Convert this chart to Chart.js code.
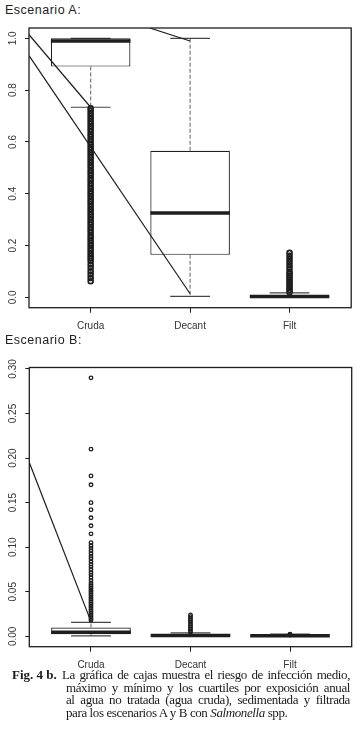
<!DOCTYPE html>
<html>
<head>
<meta charset="utf-8">
<script src="https://cdn.jsdelivr.net/npm/chart.js@4.4.0/dist/chart.umd.min.js"></script>
<style>
    body { margin: 0; background: #fff; width: 357px; height: 742px; position: relative; overflow: hidden; font-family: "Liberation Sans", Arial, sans-serif; color: #222; }
    .title { position: absolute; left: 5px; font-size: 12.5px; line-height: 13px; letter-spacing: 0.5px; }
    .wrap { position: absolute; left: 0; width: 357px; }
    .cap { position: absolute; font-family: "Liberation Serif", "Times New Roman", serif; font-size: 13px; line-height: 13px; white-space: nowrap; color: #1a1a1a; letter-spacing: -0.4px; }
    .just { text-align: justify; text-align-last: justify; }
</style>
</head>
<body>
<div class="title" style="top:4px">Escenario A:</div>
<div class="wrap" style="top:0;height:340px"><canvas id="chartA" width="357" height="340"></canvas></div>
<div class="title" style="top:334px">Escenario B:</div>
<div class="wrap" style="top:340px;height:335px"><canvas id="chartB" width="357" height="335"></canvas></div>

<div class="cap" style="left:12px;top:668px;font-weight:bold;letter-spacing:0">Fig. 4 b.</div>
<div class="cap just" style="left:62px;top:668px;width:288px">La gráfica de cajas muestra el riesgo de infección medio,</div>
<div class="cap just" style="left:66px;top:680.7px;width:284px">máximo y mínimo y los cuartiles por exposición anual</div>
<div class="cap just" style="left:66px;top:693.3px;width:284px">al agua no tratada (agua cruda), sedimentada y filtrada</div>
<div class="cap" style="left:66px;top:705.8px">para los escenarios A y B con <i>Salmonella</i> spp.</div>

<script>
const categories = ['Cruda', 'Decant', 'Filt'];

// Escenario A: whisker ends, quartiles and median per category
const yTicksA = [0, 0.2, 0.4, 0.6, 0.8, 1.0];
const lowA  = [0.734, 0.004, 0.000];
const q1A   = [0.891, 0.164, 0.001];
const medA  = [0.990, 0.326, 0.003];
const q3A   = [1.000, 0.566, 0.006];
const highA = [1.000, 1.000, 0.017];
const outCrudaA = [0.73, 0.72, 0.71, 0.70, 0.69, 0.68, 0.67, 0.66, 0.65, 0.64, 0.63, 0.62, 0.61, 0.60,
    0.59, 0.58, 0.57, 0.56, 0.55, 0.54, 0.53, 0.52, 0.51, 0.50, 0.49, 0.48, 0.47, 0.46, 0.45, 0.44,
    0.43, 0.42, 0.41, 0.40, 0.39, 0.38, 0.37, 0.36, 0.35, 0.34, 0.33, 0.32, 0.31, 0.30, 0.29, 0.28,
    0.27, 0.26, 0.25, 0.24, 0.23, 0.22, 0.21, 0.20, 0.19, 0.18, 0.17, 0.16, 0.15, 0.14,
    0.127, 0.114, 0.101, 0.088, 0.075, 0.062];
const outDecantA = [];
const outFiltA = [0.02, 0.028, 0.036, 0.044, 0.052, 0.06, 0.068, 0.076, 0.084, 0.092,
    0.10, 0.112, 0.124, 0.136, 0.148, 0.16, 0.172];
// leader lines [x1, y1, x2, y2] in data units
const leadersA = [[0.38, 1.014, 1, 0.734], [0.38, 0.933, 2, 0.014], [1.594, 1.04, 2, 0.99]];

// Escenario B
const yTicksB = [0, 0.05, 0.10, 0.15, 0.20, 0.25, 0.30];
const lowB  = [0.0005, 0.0000, 0.0000];
const q1B   = [0.0025, 0.0005, 0.0002];
const medB  = [0.0045, 0.0010, 0.0006];
const q3B   = [0.0100, 0.0020, 0.0012];
const highB = [0.0157, 0.0040, 0.0025];
const outCrudaB = [0.29, 0.21, 0.18, 0.17, 0.15, 0.142, 0.133, 0.124, 0.115,
    0.105, 0.102, 0.099, 0.096, 0.093, 0.090, 0.087, 0.084, 0.081, 0.078, 0.075, 0.072, 0.069,
    0.066, 0.063, 0.060, 0.058, 0.056, 0.054, 0.052, 0.050, 0.048, 0.046, 0.044, 0.042, 0.040,
    0.038, 0.036, 0.034, 0.032, 0.030, 0.028, 0.026, 0.024, 0.022, 0.020, 0.018];
const outDecantB = [0.024, 0.022, 0.020, 0.018, 0.016, 0.014, 0.012, 0.010, 0.008, 0.006, 0.0045];
const outFiltB = [0.0015, 0.002, 0.0025];
const leadersB = [[0.38, 0.195, 1, 0.0165]];

const ink = '#1e1e1e';

function buildDatasets(low, q1, med, q3, high, outliers, leaders, pointR, pointW) {
    const xs = categories.map((c, i) => i + 1);
    const whiskers = [], caps = [], medians = [];
    xs.forEach((x, i) => {
        whiskers.push({ x, y: q3[i] }, { x, y: high[i] }, { x, y: null },
                      { x, y: q1[i] }, { x, y: low[i] }, { x, y: null });
        caps.push({ x: x - 0.2, y: high[i] }, { x: x + 0.2, y: high[i] }, { x, y: null },
                  { x: x - 0.2, y: low[i] }, { x: x + 0.2, y: low[i] }, { x, y: null });
        medians.push({ x: x - 0.4, y: med[i] }, { x: x + 0.4, y: med[i] }, { x, y: null });
    });
    const ds = [
        { type: 'line', data: whiskers, borderColor: '#7a7a7a', borderWidth: 1.2, borderDash: [4, 2], pointRadius: 0, order: 6 },
        { type: 'line', data: caps, borderColor: '#444', borderWidth: 1.2, pointRadius: 0, order: 5 },
        { type: 'bar', data: xs.map((x, i) => ({ x, y: [q1[i], q3[i]] })), backgroundColor: '#fff',
          borderColor: ink, borderWidth: 1.2, borderSkipped: false, barPercentage: 0.8, categoryPercentage: 1, order: 4 },
        { type: 'line', data: medians, borderColor: ink, borderWidth: 3.5, pointRadius: 0, borderCapStyle: 'butt', order: 3 }
    ];
    leaders.forEach(l => {
        ds.push({ type: 'line', data: [{ x: l[0], y: l[1] }, { x: l[2], y: l[3] }], borderColor: ink, borderWidth: 1.2, pointRadius: 0, order: 2 });
    });
    outliers.forEach((vals, i) => {
        ds.push({ type: 'line', showLine: false, data: vals.map(v => ({ x: xs[i], y: v })),
            pointStyle: 'circle', pointRadius: pointR, pointBorderWidth: pointW, pointBorderColor: ink,
            pointBackgroundColor: 'rgba(255,255,255,0)', order: 1 });
    });
    return ds;
}

// R-style frame and rotated y labels
const framePlugin = {
    id: 'frame',
    afterDatasetsDraw(chart) {
        const { ctx, chartArea: a } = chart;
        ctx.save();
        ctx.strokeStyle = ink;
        ctx.lineWidth = 1.3;
        ctx.strokeRect(a.left, a.top, a.right - a.left, a.bottom - a.top);
        ctx.restore();
    },
    afterDraw(chart, args, opts) {
        const { ctx } = chart;
        const y = chart.scales.y;
        ctx.save();
        ctx.fillStyle = '#333';
        ctx.font = '10px "Liberation Sans", Arial, sans-serif';
        ctx.textAlign = 'center';
        ctx.textBaseline = 'alphabetic';
        opts.ticks.forEach(v => {
            ctx.save();
            ctx.translate(16, y.getPixelForValue(v));
            ctx.rotate(-Math.PI / 2);
            ctx.fillText(v.toFixed(opts.decimals), 0, 0);
            ctx.restore();
        });
        ctx.restore();
    }
};

function makeChart(id, datasets, yMin, yMax, yTicks, decimals, pad) {
    return new Chart(document.getElementById(id), {
        type: 'bar',
        data: { datasets },
        plugins: [framePlugin],
        options: {
            responsive: false,
            animation: false,
            devicePixelRatio: 1,
            layout: { padding: pad },
            plugins: { legend: { display: false }, tooltip: { enabled: false }, frame: { ticks: yTicks, decimals } },
            scales: {
                x: {
                    type: 'linear', min: 0.38, max: 3.62, offset: false,
                    afterBuildTicks: s => { s.ticks = categories.map((c, i) => ({ value: i + 1 })); },
                    afterFit: s => { s.height = 22; },
                    grid: { display: true, offset: false, drawOnChartArea: false, drawTicks: true, tickLength: 5, color: ink },
                    border: { display: false },
                    ticks: { callback: v => categories[Math.round(v) - 1], color: '#333', padding: 8,
                             font: { size: 10, family: '"Liberation Sans", Arial, sans-serif' }, maxRotation: 0 }
                },
                y: {
                    type: 'linear', min: yMin, max: yMax,
                    afterBuildTicks: s => { s.ticks = yTicks.map(v => ({ value: v })); },
                    afterFit: s => { s.width = pad.yWidth; },
                    grid: { display: true, drawOnChartArea: false, drawTicks: true, tickLength: 4, color: ink },
                    border: { display: false },
                    ticks: { display: false }
                }
            }
        }
    });
}

makeChart('chartA',
    buildDatasets(lowA, q1A, medA, q3A, highA, [outCrudaA, outDecantA, outFiltA], leadersA, 2.4, 1.8),
    -0.04, 1.04, yTicksA, 1, { top: 28, left: 0, right: 4.4, bottom: 10.3, yWidth: 29 });

makeChart('chartB',
    buildDatasets(lowB, q1B, medB, q3B, highB, [outCrudaB, outDecantB, outFiltB], leadersB, 1.8, 1.3),
    -0.0116, 0.3016, yTicksB, 2, { top: 27.5, left: 0, right: 4.3, bottom: 6.3, yWidth: 29.3 });
</script>
</body>
</html>
